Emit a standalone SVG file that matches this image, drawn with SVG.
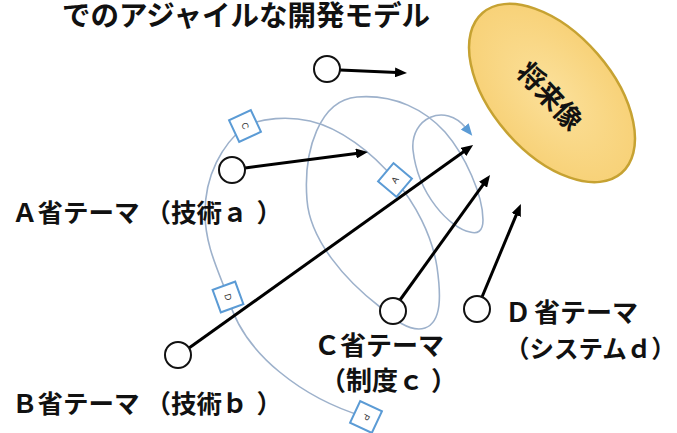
<svg xmlns="http://www.w3.org/2000/svg" width="677" height="433" viewBox="0 0 677 433">
<style>
.jp{font-family:"Noto Sans CJK JP","Noto Sans",sans-serif;font-weight:bold;fill:#111}
.lbl{font-size:25.5px}
.lbl2{font-size:26px}
.arrow{stroke:#000;stroke-width:3;fill:none;marker-end:url(#ah)}
.node{fill:#fff;stroke:#111;stroke-width:2}
.spiral{fill:none;stroke:#9DB1CB;stroke-width:1.6}
.box{fill:#fff;stroke:#5B9BD5;stroke-width:2}
.bl{font-family:"Liberation Sans",Arial,sans-serif;font-size:9px;fill:#333;text-anchor:middle;dominant-baseline:central}
</style>
<defs>
<marker id="ah" viewBox="0 0 12 10" refX="2" refY="5" markerWidth="12" markerHeight="10" markerUnits="userSpaceOnUse" orient="auto">
<path d="M0,0 L12,5 L0,10 z" fill="#000"/>
</marker>
<marker id="bh" viewBox="0 0 12 10" refX="2" refY="5" markerWidth="12" markerHeight="10" markerUnits="userSpaceOnUse" orient="auto">
<path d="M0,0 L12,5 L0,10 z" fill="#5B9BD5"/>
</marker>
<radialGradient id="eg" cx="0.5" cy="0.5" r="0.6">
<stop offset="0" stop-color="#FBE09A"/>
<stop offset="1" stop-color="#F7CF72"/>
</radialGradient>
</defs>
<rect width="677" height="433" fill="#fff"/>

<g id="title">
<text class="jp" x="62" y="26" font-size="28.5">でのアジャイルな開発モデル</text>
</g>

<g id="future">
<ellipse cx="552" cy="93" rx="106" ry="60" transform="rotate(49 552 93)" fill="url(#eg)" stroke="#C6A232" stroke-width="2.5"/>
<text class="jp" x="551" y="95" font-size="27" text-anchor="middle" dominant-baseline="central" transform="rotate(47 551 95)">将来像</text>
</g>

<g id="connectors">
<path id="cycle" class="spiral" marker-end="url(#bh)" d="M365,417 C305,399 243,355 228,297 C218,270 205,245 205,213 C205,175 222,145 245,126 C262,118 288,116 310,121 C340,128 372,152 395,180 C415,203 432,235 437,267 C441,295 442,322 425,328 C410,333 392,318 380,307 C345,280 310,240 307,200 C303,150 320,100 357,97 C395,94 425,110 445,132 C465,155 483,195 483,220 C483,232 477,234 470,232 C450,228 418,195 413,150 C410,118 445,102 466,128"/>
<line class="arrow" x1="340" y1="70" x2="397" y2="72.5"/>
<line class="arrow" x1="245" y1="168" x2="358" y2="153.3"/>
<line class="arrow" x1="189" y1="348" x2="465" y2="150.8"/>
<line class="arrow" x1="400" y1="300" x2="484.2" y2="183.1"/>
<line class="arrow" x1="482" y1="297" x2="517" y2="213.2"/>
</g>

<g id="pdca">
<g transform="translate(366 417) rotate(25)"><rect class="box" x="-12" y="-12" width="24" height="24"/><text class="bl" transform="rotate(95)">P</text></g>
<g transform="translate(228 297) rotate(-20)"><rect class="box" x="-12" y="-12" width="24" height="24"/><text class="bl" transform="rotate(95)">D</text></g>
<g transform="translate(245 126) rotate(-25)"><rect class="box" x="-12" y="-12" width="24" height="24"/><text class="bl" transform="rotate(90)">C</text></g>
<g transform="translate(395 180) rotate(40)"><rect class="box" x="-12" y="-12" width="24" height="24"/><text class="bl" transform="rotate(-95)">A</text></g>
</g>

<g id="top-theme">
<circle class="node" cx="327" cy="69" r="13"/>
</g>

<g id="theme-a">
<circle class="node" cx="232" cy="170" r="13"/>
<text class="jp lbl" x="12" y="222">Ａ省テーマ<tspan dx="6">（技術ａ</tspan><tspan dx="9">）</tspan></text>
</g>

<g id="theme-b">
<circle class="node" cx="178" cy="355" r="13"/>
<text class="jp lbl" x="12" y="413">Ｂ省テーマ<tspan dx="6">（技術ｂ</tspan><tspan dx="9">）</tspan></text>
</g>

<g id="theme-c">
<circle class="node" cx="393" cy="311" r="13"/>
<text class="jp lbl2" x="314" y="355">Ｃ省テーマ</text>
<text class="jp lbl2" x="320" y="390">（制度ｃ<tspan dx="7">）</tspan></text>
</g>

<g id="theme-d">
<circle class="node" cx="477" cy="309" r="13"/>
<text class="jp lbl2" x="505" y="322">Ｄ<tspan dx="3">省テーマ</tspan></text>
<text class="jp" font-size="24.5" x="505" y="358">（システムｄ）</text>
</g>
</svg>
